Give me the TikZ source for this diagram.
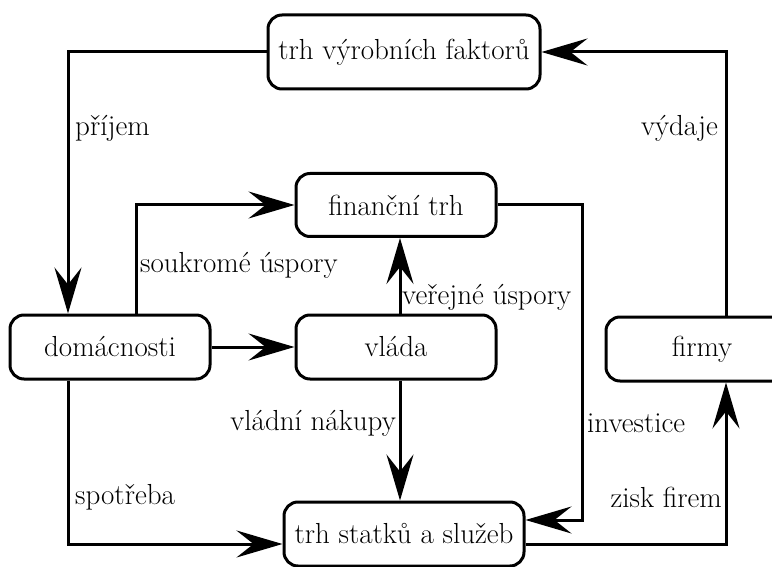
\documentclass[tikz,border=0pt]{standalone}
\usetikzlibrary{arrows.meta}
\begin{document}
\begin{tikzpicture}[x=1pt,y=-1pt,
  box/.style={draw, line width=3pt, rounded corners=14pt, minimum height=64pt, inner sep=0pt, font=\fontsize{29}{34}\selectfont},
  flow/.style={line width=3pt, -{Stealth[length=46pt, width=27pt, inset=17pt]}},
  lbl/.style={font=\fontsize{29}{34}\selectfont, inner sep=0pt}]
\useasboundingbox (0,0) rectangle (772,567);
\node[box, minimum width=272pt, minimum height=74pt] (tvf) at (404,52) {trh výrobních faktorů};
\node[box, minimum width=200pt, minimum height=63pt] (fin) at (396,205) {finanční trh};
\node[box, minimum width=200pt] (dom) at (110,347) {domácnosti};
\node[box, minimum width=200pt] (vla) at (396,347) {vláda};
\node[box, minimum width=192pt] (fir) at (702,349) {firmy};
\node[box, minimum width=240pt] (tsl) at (404,534) {trh statků a služeb};
\coordinate (xR) at (726,0);
\coordinate (xL) at (68,0);
\coordinate (xS) at (136,0);
\coordinate (xM) at (400,0);
\coordinate (xI) at (582,0);
\coordinate (tslI) at ([yshift=14pt]tsl.east);
\coordinate (tslL) at ([yshift=-10pt]tsl.west);
\coordinate (tslR) at ([yshift=-10pt]tsl.east);
\draw[flow] (fir.north -| xR) |- (tvf.east);
\draw[flow] (tvf.west) -| (dom.north -| xL);
\draw[flow] (dom.north -| xS) |- (fin.west);
\draw[flow] (dom.east) -- (vla.west);
\draw[flow] (vla.north -| xM) -- (fin.south -| xM);
\draw[flow] (fin.east) -| (tslI -| xI) -- (tslI);
\draw[flow] (vla.south -| xM) -- (tsl.north -| xM);
\draw[flow] (dom.south -| xL) |- (tslL);
\draw[flow] (tslR) -| (fir.south -| xR);
\node[lbl, anchor=west] (l1) at (75,128) {příjem};
\node[lbl, anchor=east] (l2) at (718,128) {výdaje};
\node[lbl, anchor=west] (l3) at (140,265) {soukromé úspory};
\node[lbl, anchor=west] (l4) at (402,297) {veřejné úspory};
\node[lbl, anchor=east] (l5) at (396,423) {vládní nákupy};
\node[lbl, anchor=west] (l6) at (587,423) {investice};
\node[lbl, anchor=west] (l7) at (75,497) {spotřeba};
\node[lbl, anchor=east] (l8) at (722,497) {zisk firem};
\end{tikzpicture}
\end{document}
